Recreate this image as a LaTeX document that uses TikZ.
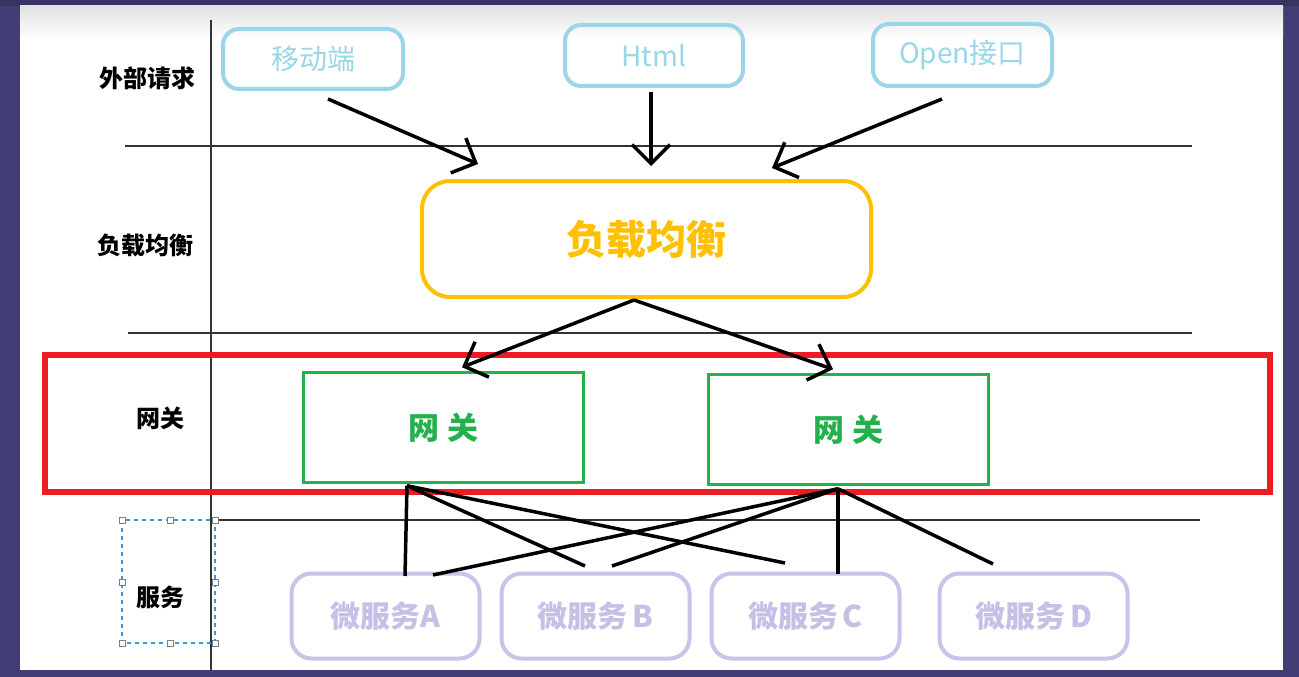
\documentclass[tikz,border=0pt]{standalone}
\usepackage{fontspec}
\newfontfamily\cjk{Noto Sans CJK SC}
\usetikzlibrary{arrows.meta,calc}
\definecolor{framec}{HTML}{413E75}
\definecolor{topstrip}{HTML}{363463}
\definecolor{reqc}{HTML}{9AD6E8}
\definecolor{lbc}{HTML}{FFC000}
\definecolor{gwc}{HTML}{22B14C}
\definecolor{msc}{HTML}{C8C3E8}
\definecolor{mstext}{HTML}{C5C0E6}
\definecolor{redc}{HTML}{ED1C24}
\definecolor{selc}{HTML}{3D95E0}
\definecolor{gridc}{HTML}{333333}
\begin{document}
\begin{tikzpicture}[x=1pt,y=-1pt,
  reqbox/.style={draw=reqc, line width=4pt, rounded corners=16pt, text=reqc,
    font=\cjk\fontsize{28}{32}\selectfont, inner sep=0pt},
  lbbox/.style={draw=lbc, line width=4pt, rounded corners=28pt, text=lbc,
    font=\cjk\bfseries\fontsize{40}{44}\selectfont, inner sep=0pt},
  gwbox/.style={draw=gwc, line width=3.5pt, text=gwc,
    font=\cjk\bfseries\fontsize{31}{35}\selectfont, inner sep=0pt,
    minimum width=280pt, minimum height=110pt},
  msbox/.style={draw=msc, line width=4pt, rounded corners=20pt, text=mstext,
    font=\cjk\bfseries\fontsize{30}{34}\selectfont, inner sep=0pt,
    minimum width=188pt, minimum height=85pt},
  rowlabel/.style={font=\cjk\bfseries\fontsize{24}{28}\selectfont, text=black},
  gridline/.style={draw=gridc, line width=1.3pt},
  arr/.style={line width=3.5pt, -{Straight Barb[length=19pt,width=38pt]}},
  link/.style={line width=3.5pt},
  handle/.style={draw=gray, fill=white, line width=0.8pt, minimum size=6pt, inner sep=0pt}
]
\useasboundingbox (0,0) rectangle (1299,677);
% frame and page
\fill[framec] (0,0) rectangle (1299,677);
\fill[topstrip] (0,0) rectangle (1299,6);
\fill[white] (20,6) rectangle (1283,670);
\shade[top color=black!12, bottom color=white] (20,6) rectangle (1283,38);

% grid lines
\draw[gridline] (211,20) -- (211,670);
\draw[gridline] (125,146) -- (1192,146);
\draw[gridline] (128,333) -- (1192,333);
\draw[gridline] (215,520) -- (1200,520);

% red highlight box
\draw[redc, line width=6pt] (45,355) rectangle (1270,492);

% row labels
\node[rowlabel] (l1) at (147,78) {外部请求};
\node[rowlabel] (l2) at (145,245) {负载均衡};
\node[rowlabel] (l3) at (160,418) {网关};
\node[rowlabel] (l4) at (160,597) {服务};

% selection box around 服务
\draw[selc, line width=1.2pt, dash pattern=on 4pt off 4pt] (122,520) rectangle (215,643);
\foreach \hx/\hy [count=\i] in {122/520,170/520,215/520,122/582,215/582,122/643,170/643,215/643}
  \node[handle] (h\i) at (\hx,\hy) {};

% request boxes
\node[reqbox, minimum width=180pt, minimum height=60pt] (mob) at (313,59) {移动端};
\node[reqbox, minimum width=178pt, minimum height=61pt] (html) at (654,55.5) {Html};
\node[reqbox, minimum width=179pt, minimum height=62pt] (open) at (962.5,55) {Open接口};

% load balancer
\node[lbbox, minimum width=449pt, minimum height=116pt] (lb) at (646.5,239) {负载均衡};

% gateways
\node[gwbox] (gl) at (443.5,427.5) {网 关};
\node[gwbox] (gr) at (848.5,429.5) {网 关};

% micro services
\node[msbox] (msa) at (385.5,616) {微服务A};
\node[msbox] (msb) at (595.5,616) {微服务\,B};
\node[msbox] (msc) at (805.5,616) {微服务\,C};
\node[msbox] (msd) at (1033.5,616) {微服务\,D};

% arrows: requests -> load balancer
\draw[arr] ($(mob.south)+(15,8)$) -- ($(lb.north)+(-168.5,-15)$);
\draw[arr] ($(html.south)+(-3,4)$) -- ($(lb.north)+(4.5,-13)$);
\draw[arr] ($(open.south)+(-20.5,11)$) -- ($(lb.north)+(125.5,-11)$);

% arrows: load balancer -> gateways
\draw[arr] ($(lb.south)+(-12.5,1)$) -- ($(gl.north)+(18.5,-3.5)$);
\draw[arr] ($(lb.south)+(-12.5,1)$) -- ($(gr.north)+(-15.5,-3.5)$);

% links: gateways -> services
\draw[link] ($(gl.south)+(-36.5,1.5)$) -- ($(msa.north)+(19.5,4.5)$);
\draw[link] ($(gl.south)+(-36.5,1.5)$) -- ($(msb.north)+(-10.5,-5.5)$);
\draw[link] ($(gl.south)+(-36.5,1.5)$) -- ($(msc.north)+(-20.5,-8.5)$);
\draw[link] ($(gr.south)+(-10.5,2.5)$) -- ($(msa.north)+(47.5,3.5)$);
\draw[link] ($(gr.south)+(-10.5,2.5)$) -- ($(msb.north)+(16.5,-5.5)$);
\draw[link] ($(gr.south)+(-10.5,2.5)$) -- ($(msc.north)+(32.5,2.5)$);
\draw[link] ($(gr.south)+(-10.5,2.5)$) -- ($(msd.north)+(-40.5,-7.5)$);
\end{tikzpicture}
\end{document}
